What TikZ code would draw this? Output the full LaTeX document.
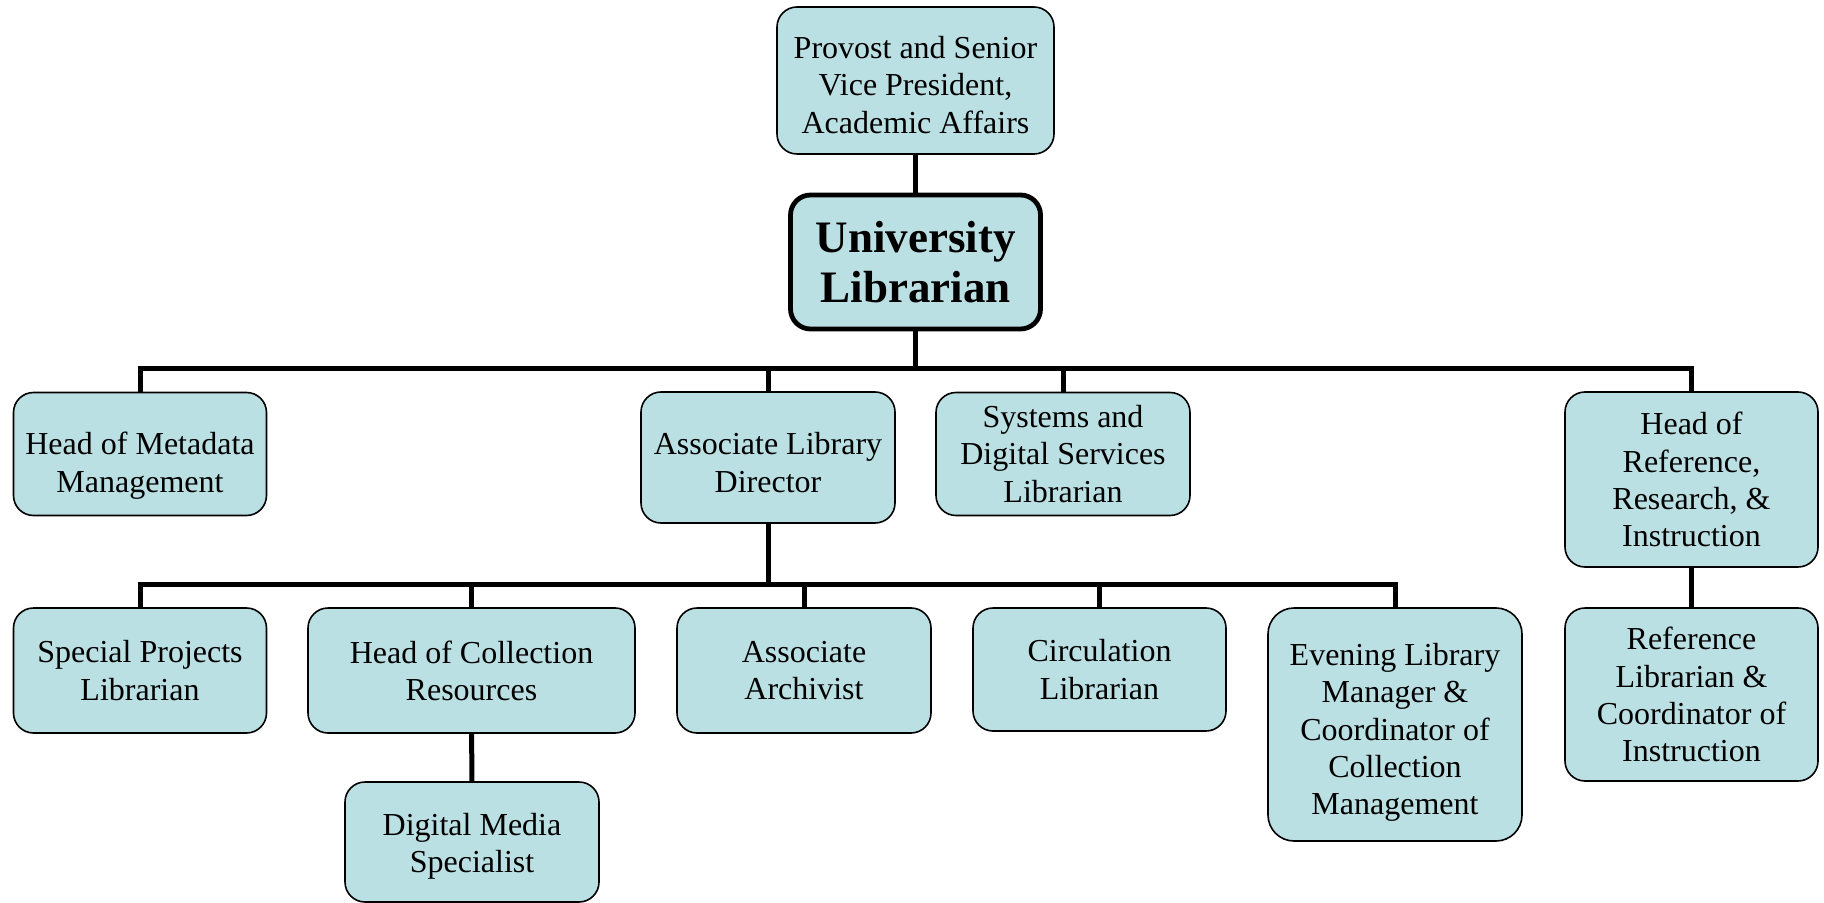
\documentclass[tikz,border=0pt]{standalone}
\usepackage{fontspec}
\setmainfont{Liberation Serif}
\usepackage{tikz}
\usetikzlibrary{positioning}
\definecolor{boxfill}{RGB}{187,224,227}
\newcommand{\dropby}[1]{\rule{0pt}{\dimexpr 11pt+#1*2\relax}}

\begin{document}
\begin{tikzpicture}[x=0.5pt,y=-0.5pt]
	\useasboundingbox (0,0) rectangle (1824,903);
	\begin{scope}[every node/.style={rectangle, rounded corners=10pt, draw, fill=boxfill,
	              line width=0.8pt, align=center, inner sep=0pt,
	              font=\fontsize{16}{18.6}\selectfont}]
		\node[minimum width=138.5pt, minimum height=73.5pt] (prov) at (915.5,80.5) {\dropby{2.3pt}Provost and Senior\\Vice President,\\Academic Affairs};
		\node[minimum width=125pt, minimum height=67pt, line width=2.4pt,
		      font=\fontsize{22.5}{25}\selectfont\bfseries] (ulib) at (915.5,262) {\dropby{1pt}University\\Librarian};
		\node[minimum width=126.5pt, minimum height=61.5pt] (meta) at (140,454) {\dropby{6pt}Head of Metadata\\Management};
		\node[minimum width=127pt, minimum height=65.5pt] (ald) at (768,457.5) {\dropby{2.6pt}Associate Library\\Director};
		\node[minimum width=127pt, minimum height=61.5pt] (sys) at (1063,454) {Systems and\\Digital Services\\Librarian};
		\node[minimum width=126.5pt, minimum height=87.5pt] (ref) at (1691.5,479.5) {Head of\\Reference,\\Research, \&\\Instruction};
		\node[minimum width=126.5pt, minimum height=62.5pt] (spec) at (140,670.5) {Special Projects\\Librarian};
		\node[minimum width=163.5pt, minimum height=62.5pt] (coll) at (471.5,670.5) {Head of Collection\\Resources};
		\node[minimum width=127pt, minimum height=62.5pt] (arch) at (804,670.5) {Associate\\Archivist};
		\node[minimum width=126.5pt, minimum height=61.5pt] (circ) at (1099.5,669.5) {Circulation\\Librarian};
		\node[minimum width=127pt, minimum height=116.5pt, rounded corners=13pt] (eve) at (1395,724.5) {\dropby{4pt}Evening Library\\Manager \&\\Coordinator of\\Collection\\Management};
		\node[minimum width=126.5pt, minimum height=86.5pt] (refl) at (1691.5,694.5) {Reference\\Librarian \&\\Coordinator of\\Instruction};
		\node[minimum width=127pt, minimum height=60pt] (dig) at (472,842) {\dropby{2pt}Digital Media\\Specialist};
	\end{scope}

	\coordinate (bus1) at (915.5,369);
	\coordinate (bus2) at (768,584);

	\begin{scope}[line width=2.5pt]
		\draw (prov) -- (ulib);
		\draw (ulib) -- (bus1) -| (meta);
		\draw (bus1) -| (ald);
		\draw (bus1) -| (sys);
		\draw (bus1) -| (ref);
		\draw (ref) -- (refl);
		\draw (ald) -- (bus2) -| (spec);
		\draw (bus2) -| (coll);
		\draw (bus2) -| (arch);
		\draw (bus2) -| (circ);
		\draw (bus2) -| (eve);
		\draw (coll) -- (dig);
	\end{scope}
\end{tikzpicture}
\end{document}
